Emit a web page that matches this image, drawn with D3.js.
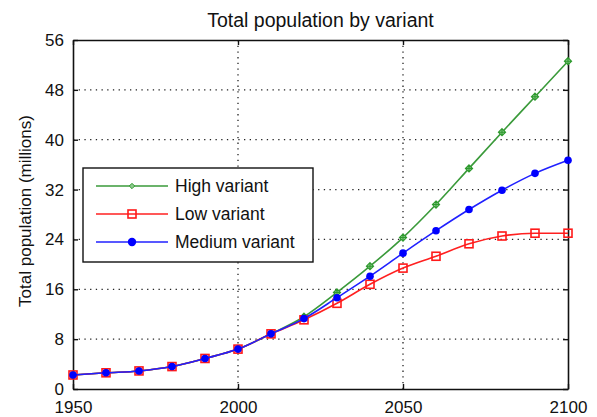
<!DOCTYPE html>
<html>
<head>
<meta charset="utf-8">
<script src="https://cdn.jsdelivr.net/npm/d3@7"></script>
<style>
body { margin: 0; background: #fff; }
text { font-family: "Liberation Sans", Arial, sans-serif; fill: #111; }
</style>
</head>
<body>
<svg width="597" height="417"></svg>
<script>
var years  = [1950, 1960, 1970, 1980, 1990, 2000, 2010, 2020, 2030, 2040, 2050, 2060, 2070, 2080, 2090, 2100];
var high   = [2.25, 2.6, 2.9, 3.6, 4.9, 6.4, 8.85, 11.6, 15.5, 19.7, 24.3, 29.6, 35.4, 41.2, 46.9, 52.6];
var low    = [2.25, 2.6, 2.9, 3.6, 4.9, 6.4, 8.85, 11.1, 13.75, 16.8, 19.4, 21.3, 23.3, 24.55, 25.0, 25.0];
var medium = [2.25, 2.6, 2.9, 3.6, 4.9, 6.4, 8.85, 11.3, 14.65, 18.1, 21.8, 25.4, 28.8, 31.9, 34.6, 36.7];
var xTicks = [1950, 2000, 2050, 2100];
var yTicks = [0, 8, 16, 24, 32, 40, 48, 56];
var names  = ["High variant", "Low variant", "Medium variant"];

var svg = d3.select("svg");
var pL = 73, pR = 568, pT = 40, pB = 389;

var x = d3.scaleLinear().domain([1950, 2100]).range([pL, pR]);
var y = d3.scaleLinear().domain([0, 56]).range([pB, pT]);

// grid (dotted)
var grid = svg.append("g")
    .attr("stroke", "#222")
    .attr("stroke-width", 1.3)
    .attr("stroke-dasharray", "1.3,4.4");
grid.selectAll(".gx").data(xTicks.slice(1, -1)).enter().append("line")
    .attr("x1", function(d) { return x(d); }).attr("x2", function(d) { return x(d); })
    .attr("y1", pT).attr("y2", pB);
grid.selectAll(".gy").data(yTicks.slice(1, -1)).enter().append("line")
    .attr("y1", function(d) { return y(d); }).attr("y2", function(d) { return y(d); })
    .attr("x1", pL).attr("x2", pR);

// axes, ticks inside on all four sides
svg.append("g").attr("transform", "translate(0," + pB + ")")
  .call(d3.axisBottom(x).tickValues(xTicks).tickSizeInner(-5).tickSizeOuter(0).tickPadding(12).tickFormat(d3.format("d")));
svg.append("g").attr("transform", "translate(0," + pT + ")")
  .call(d3.axisTop(x).tickValues(xTicks).tickSizeInner(-5).tickSizeOuter(0).tickFormat(""));
svg.append("g").attr("transform", "translate(" + pL + ",0)")
  .call(d3.axisLeft(y).tickValues(yTicks).tickSizeInner(-5).tickSizeOuter(0).tickPadding(9));
svg.append("g").attr("transform", "translate(" + pR + ",0)")
  .call(d3.axisRight(y).tickValues(yTicks).tickSizeInner(-5).tickSizeOuter(0).tickFormat(""));

svg.selectAll(".domain").attr("stroke", "#111").attr("stroke-width", 1.6);
svg.selectAll(".tick line").attr("stroke", "#111").attr("stroke-width", 1.4);
svg.selectAll(".tick text").style("font-size", "17px").attr("fill", "#111")
    .style("font-family", "'Liberation Sans', Arial, sans-serif");

// title and y label
svg.append("text").attr("x", (pL + pR) / 2).attr("y", 27).attr("text-anchor", "middle")
    .style("font-size", "19.5px").text("Total population by variant");
svg.append("text").attr("transform", "translate(31,211) rotate(-90)")
    .attr("text-anchor", "middle").style("font-size", "17px")
    .text("Total population (millions)");

var line = d3.line()
    .x(function(d) { return x(d[0]); })
    .y(function(d) { return y(d[1]); })
    .curve(d3.curveMonotoneX);

function pts(vals) { return years.map(function(yr, i) { return [yr, vals[i]]; }); }

var diamond = "M0,-3.6L3.6,0L0,3.6L-3.6,0Z";

function drawHigh(g, data) {
  g.selectAll("path.m").data(data).enter().append("path").attr("class", "m")
    .attr("transform", function(d) { return "translate(" + x(d[0]) + "," + y(d[1]) + ")"; })
    .attr("d", diamond + "M-3.6,0H3.6M0,-3.6V3.6")
    .attr("fill", "#8fc98f").attr("stroke", "#2e9a2e").attr("stroke-width", 1.1);
}
function drawLow(g, data) {
  g.selectAll("rect").data(data).enter().append("rect")
    .attr("x", function(d) { return x(d[0]) - 4; }).attr("y", function(d) { return y(d[1]) - 4; })
    .attr("width", 8).attr("height", 8)
    .attr("fill", "none").attr("stroke", "#ff1a1a").attr("stroke-width", 1.6);
}
function drawMed(g, data) {
  g.selectAll("circle").data(data).enter().append("circle")
    .attr("cx", function(d) { return x(d[0]); }).attr("cy", function(d) { return y(d[1]); })
    .attr("r", 3.8).attr("fill", "#0000ff");
}

var series = [
  { vals: high, color: "#3a9a3a", draw: drawHigh },
  { vals: low, color: "#ff2020", draw: drawLow },
  { vals: medium, color: "#2020ff", draw: drawMed }
];

series.forEach(function(s) {
  var g = svg.append("g");
  g.append("path").datum(pts(s.vals)).attr("d", line)
    .attr("fill", "none").attr("stroke", s.color).attr("stroke-width", 1.6);
  s.draw(g, pts(s.vals));
});

// legend
var lg = svg.append("g");
lg.append("rect").attr("x", 83).attr("y", 168).attr("width", 230).attr("height", 94)
  .attr("fill", "#fff").attr("stroke", "#111").attr("stroke-width", 1.4);
var ly = [186, 214, 242];
series.forEach(function(s, i) {
  var yy = ly[i];
  lg.append("line").attr("x1", 96).attr("x2", 168).attr("y1", yy).attr("y2", yy)
    .attr("stroke", s.color).attr("stroke-width", 1.6);
  var mg = lg.append("g");
  if (i === 0) {
    mg.append("path").attr("transform", "translate(132," + yy + ") scale(0.75)")
      .attr("d", diamond).attr("fill", "#8fc98f").attr("stroke", "#2e9a2e").attr("stroke-width", 1.3);
  } else if (i === 1) {
    mg.append("rect").attr("x", 128).attr("y", yy - 4).attr("width", 8).attr("height", 8)
      .attr("fill", "none").attr("stroke", "#ff1a1a").attr("stroke-width", 1.6);
  } else {
    mg.append("circle").attr("cx", 132).attr("cy", yy).attr("r", 4.2).attr("fill", "#0000ff");
  }
  lg.append("text").attr("x", 175).attr("y", yy + 6).style("font-size", "17.5px").text(names[i]);
});
</script>
</body>
</html>
